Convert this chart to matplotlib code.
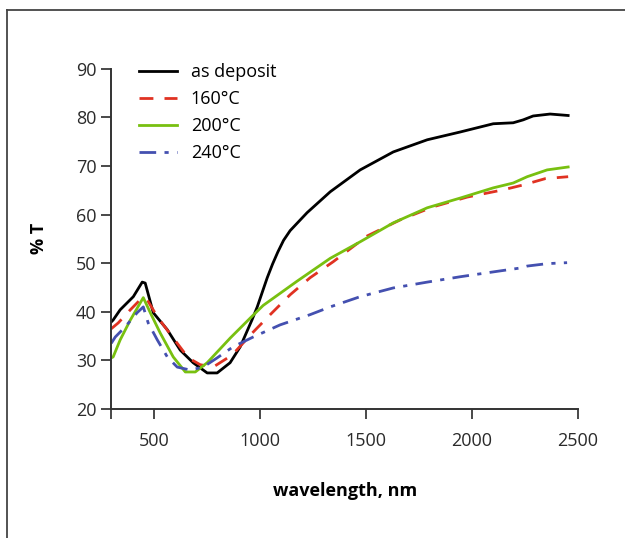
import matplotlib
matplotlib.use("Agg")
import matplotlib.pyplot as plt
from matplotlib.lines import Line2D

plt.rcParams['font.family'] = ['Open Sans', 'DejaVu Sans']

# as deposit
wl_dep = [300, 309, 342, 404, 446, 460, 498, 564, 625, 686, 752, 799, 860, 908, 964,
          988, 1035, 1060, 1085, 1112, 1143, 1223, 1332, 1473, 1629, 1789, 1944, 2100, 2194, 2241,
          2288, 2368, 2453]
t_dep = [37.9, 38.3, 40.4, 43.1, 46.1, 45.9, 39.8, 36.3, 32.1, 29.5, 27.4, 27.4, 29.5, 32.8, 38.4,
         41.0, 47.0, 49.8, 52.3, 54.7, 56.7, 60.4, 64.7, 69.2, 72.9, 75.4, 77.0, 78.7, 78.9, 79.5,
         80.3, 80.7, 80.4]

# 160 C
wl_160 = [300, 333, 390, 446, 470, 521, 592, 663, 719, 780, 870, 964, 1049, 1143, 1237,
          1346, 1506, 1661, 1817, 1977, 2147, 2241, 2345, 2453]
t_160 = [36.5, 37.7, 40.4, 42.9, 42.4, 38.7, 34.6, 30.5, 29.1, 28.6, 31.1, 35.6, 39.4, 43.5, 47.0,
         50.3, 55.6, 58.9, 61.6, 63.6, 65.1, 66.1, 67.4, 67.8]

# 200 C
wl_200 = [300, 309, 342, 390, 451, 484, 531, 592, 649, 696, 752, 861, 955, 1016, 1176, 1332,
          1473, 1629, 1789, 1944, 2100, 2194, 2260, 2354, 2453]
t_200 = [30.5, 30.7, 34.2, 38.3, 42.9, 39.8, 35.6, 30.7, 27.6, 27.6, 29.5, 34.6, 38.7, 41.3, 46.3, 51.0,
         54.4, 58.3, 61.4, 63.4, 65.5, 66.5, 67.8, 69.2, 69.8]

# 240 C
wl_240 = [300, 319, 366, 422, 451, 474, 517, 564, 611, 672, 733, 799, 875, 969, 1096, 1237, 1332,
          1473, 1629, 1789, 1944, 2100, 2227, 2260, 2354, 2448]
t_240 = [33.5, 34.8, 36.9, 39.8, 41.0, 37.7, 34.2, 30.7, 28.6, 28.0, 28.6, 30.5, 32.8, 34.8, 37.3, 39.4, 41.0,
         43.1, 44.9, 46.1, 47.2, 48.2, 49.0, 49.4, 49.9, 50.1]

xticks = [300, 500, 1000, 1500, 2000, 2500]
xlabels = ['', '500', '1000', '1500', '2000', '2500']
yticks = [20, 30, 40, 50, 60, 70, 80, 90]

fig = plt.figure(figsize=(6.25, 5.38), dpi=100)
ax = fig.add_axes([0.178, 0.240, 0.747, 0.632])

ax.plot(wl_dep, t_dep, color='black', lw=2.0, label='as deposit')
ax.plot(wl_160, t_160, color='#e03222', lw=2.0, dashes=(5, 4), label='160°C')
ax.plot(wl_200, t_200, color='#78c010', lw=2.0, label='200°C')
ax.plot(wl_240, t_240, color='#4450b0', lw=2.0, dashes=(6, 3, 1.5, 3), label='240°C')

ax.set_xlim(300, 2500)
ax.set_ylim(20, 90)
ax.set_xticks(xticks)
ax.set_xticklabels(xlabels)
ax.set_yticks(yticks)
ax.tick_params(labelsize=13, colors='#2a2a2a', length=7, width=1.2, direction='out')
ax.tick_params(axis='x', pad=10)
for s in ['top', 'right']:
    ax.spines[s].set_visible(False)
for s in ['left', 'bottom']:
    ax.spines[s].set_linewidth(1.4)
    ax.spines[s].set_color('#333333')

ax.set_xlabel('wavelength, nm', fontsize=13, fontweight='bold', labelpad=23)
ax.set_ylabel('% T', fontsize=13, fontweight='bold', labelpad=20)

ax.legend(loc='upper left', bbox_to_anchor=(0.025, 1.065), frameon=False, fontsize=13,
          handlelength=2.1, handletextpad=0.75, labelspacing=0.5)

# outer frame
fig.add_artist(Line2D([0.0115, 0.0115], [0.0, 0.981], color='#444444', lw=1.3))
fig.add_artist(Line2D([0.0115, 1.0], [0.981, 0.981], color='#444444', lw=1.3))

fig.savefig('out.png', dpi=100)
